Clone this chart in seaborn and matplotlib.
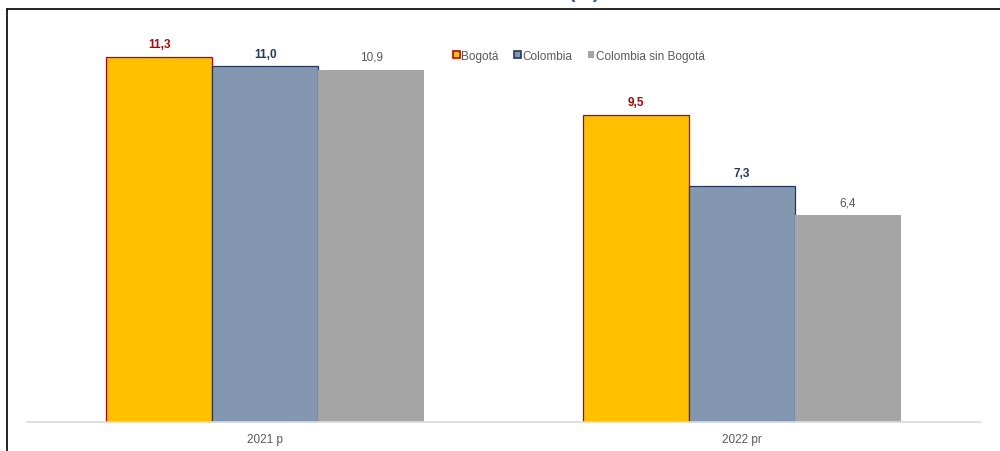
import pandas as pd
import seaborn as sns
import matplotlib.pyplot as plt
from matplotlib.lines import Line2D

periods = ["2021 p", "2022 pr"]
series = ["Bogotá", "Colombia", "Colombia sin Bogotá"]
bogota = [11.3, 9.5]
colombia = [11.0, 7.3]
colombia_sin_bogota = [10.9, 6.4]

fill_colors = ["#FFC000", "#8497B0", "#A5A5A5"]
edge_colors = ["#C00000", "#203864", "#A5A5A5"]
label_colors = ["#C00000", "#203864", "#595959"]
label_weights = ["bold", "bold", "normal"]


def fmt_comma(v):
    return "{:.1f}".format(v).replace(".", ",")


def plot():
    sns.set_theme(style="white")
    plt.rcParams["font.family"] = ["Liberation Sans", "DejaVu Sans"]

    df = pd.DataFrame({
        "periodo": periods * 3,
        "serie": [series[0]] * 2 + [series[1]] * 2 + [series[2]] * 2,
        "valor": bogota + colombia + colombia_sin_bogota,
    })

    fig = plt.figure(figsize=(10, 4.52), dpi=100)
    ax = fig.add_axes([0.027, 0.064, 0.953, 0.894])

    sns.barplot(data=df, x="periodo", y="valor", hue="serie", order=periods,
                hue_order=series, palette=fill_colors, width=0.667, gap=0,
                saturation=1, ax=ax, legend=False)

    for i, cont in enumerate(ax.containers):
        for p in cont.patches:
            p.set_edgecolor(edge_colors[i])
            p.set_linewidth(0.9 if i < 2 else 0)
        ax.bar_label(cont, labels=[fmt_comma(v) for v in cont.datavalues],
                     padding=5, fontsize=8.5, color=label_colors[i],
                     fontweight=label_weights[i])

    ax.set_xlim(-0.5, 1.5)
    ax.set_ylim(0, 12.5)
    ax.set_yticks([])
    ax.set_xlabel("")
    ax.set_ylabel("")
    for side in ["top", "right", "left"]:
        ax.spines[side].set_visible(False)
    ax.spines["bottom"].set_color("#D9D9D9")
    ax.spines["bottom"].set_linewidth(1.2)
    ax.tick_params(axis="x", length=0, pad=8, labelsize=8.5, labelcolor="#595959")

    handles = [plt.Rectangle((0, 0), 1, 1, facecolor=fill_colors[i],
                             edgecolor=edge_colors[i], linewidth=1.2 if i < 2 else 0)
               for i in range(3)]
    ax.legend(handles, series, loc="upper left", bbox_to_anchor=(0.436, 0.948),
              ncol=3, frameon=False, fontsize=8.5, handlelength=0.55,
              handleheight=0.6, handletextpad=0.15, columnspacing=1.3,
              labelcolor="#595959")

    # frame border of the original crop
    fig.add_artist(Line2D([0.007, 1.0], [0.978, 0.978], color="black", lw=1.2,
                          transform=fig.transFigure))
    fig.add_artist(Line2D([0.007, 0.007], [0.0, 0.978], color="black", lw=1.2,
                          transform=fig.transFigure))
    fig.text(0.584, 1.004, "(%)", ha="center", va="baseline", fontsize=14,
             fontweight="bold", color="#2F5597")

    plt.savefig("out.png", dpi=100)


if __name__ == '__main__':
    plot()
